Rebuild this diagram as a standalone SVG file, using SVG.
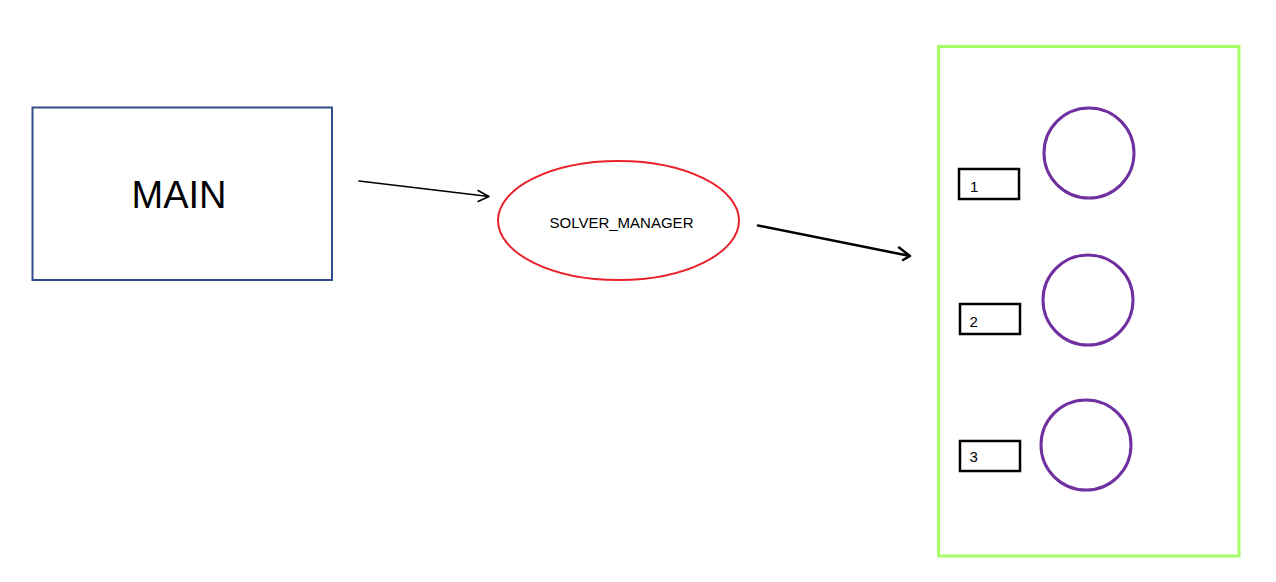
<svg xmlns="http://www.w3.org/2000/svg" width="1276" height="582" viewBox="0 0 1276 582">
<style>
.lbl{font-family:"Liberation Sans",Arial,sans-serif;fill:#000}
.conn{stroke:#000;fill:none;stroke-linecap:round;stroke-linejoin:round}
.box{fill:#fff;stroke:#000;stroke-width:2.5}
.worker{fill:#fff;stroke:#7030A0;stroke-width:3}
</style>
<rect width="1276" height="582" fill="#fff"/>
<g id="main">
<rect x="32.5" y="107.5" width="299.5" height="172.5" fill="#fff" stroke="#2F4B88" stroke-width="2"/>
<text class="lbl" x="179" y="208" font-size="38" text-anchor="middle">MAIN</text>
</g>
<g id="solver_manager">
<ellipse cx="618.5" cy="220.5" rx="120.5" ry="59.5" fill="#fff" stroke="#E8212B" stroke-width="2"/>
<text class="lbl" x="621.5" y="228.3" font-size="15" text-anchor="middle">SOLVER_MANAGER</text>
</g>
<g id="pool">
<rect x="938.5" y="46.5" width="300.5" height="509.5" fill="#fff" stroke="#A6FF66" stroke-width="3"/>
</g>
<g id="slot1">
<rect class="box" x="959" y="169" width="60" height="30"/>
<text class="lbl" x="970" y="192" font-size="15">1</text>
</g>
<g id="worker1"><circle class="worker" cx="1089" cy="153" r="45"/></g>
<g id="slot2">
<rect class="box" x="960" y="304" width="60" height="30"/>
<text class="lbl" x="969.5" y="327" font-size="15">2</text>
</g>
<g id="worker2"><circle class="worker" cx="1088" cy="300" r="45"/></g>
<g id="slot3">
<rect class="box" x="960" y="441" width="60" height="30"/>
<text class="lbl" x="969.5" y="462" font-size="15">3</text>
</g>
<g id="worker3"><circle class="worker" cx="1086" cy="445" r="45"/></g>
<g id="connectors">
<path class="conn" stroke-width="1.5" d="M359 181 L489 196.5 M478 190.5 L489 196.5 L478 201.5"/>
<path class="conn" stroke-width="2.5" d="M758 225.5 L910 256 M899 247.5 L910 256 L903 260"/>
</g>
</svg>
